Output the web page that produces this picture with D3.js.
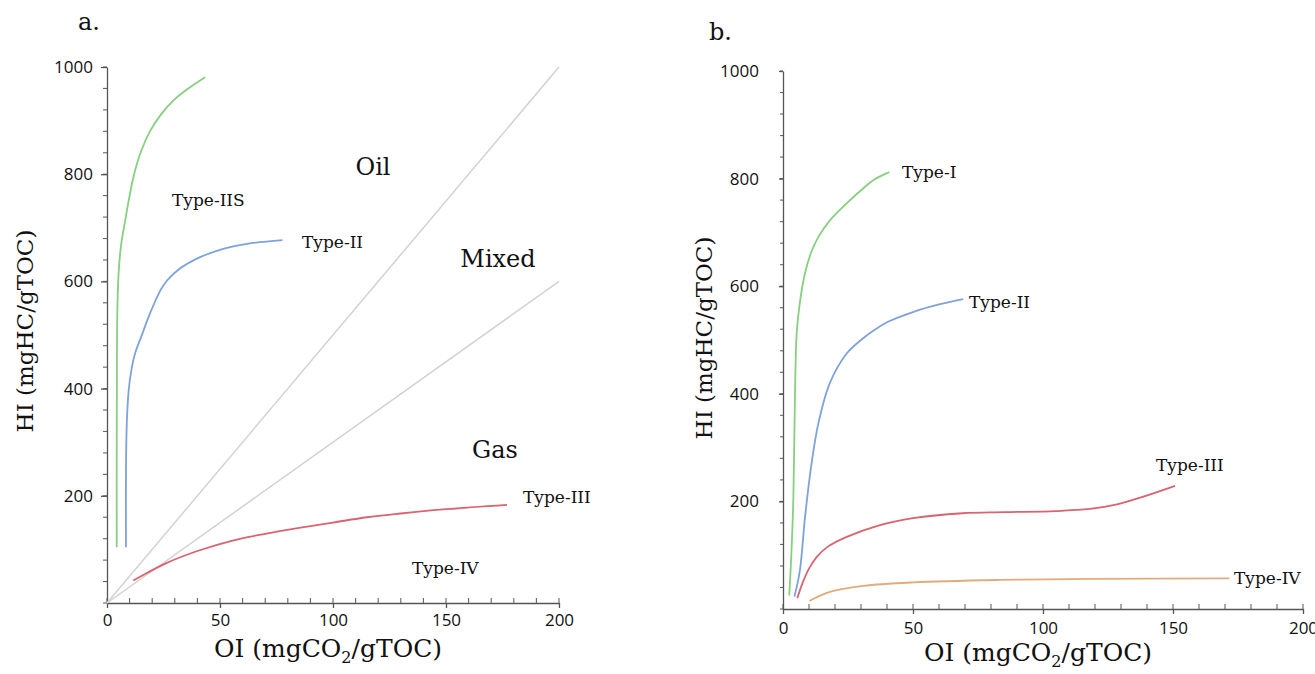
<!DOCTYPE html>
<html>
<head>
<meta charset="utf-8">
<script src="https://cdn.jsdelivr.net/npm/d3@7"></script>
<style>
  body { margin: 0; background: #fff; }
  svg text { fill: #111; }
</style>
</head>
<body>
<div id="vis"><svg width="1315" height="674"></svg></div>
<script>
// ---- data: [OI, HI] pairs ----
const typeIISa = [[4.3,104],[4.3,300],[4.4,450],[4.6,550],[5.2,620],[6.3,670],[8,712],[10,760],[12,800],[15,842],[19,880],[24,912],[30,940],[36,960],[43.4,981]];
const typeIIa = [[8.4,104],[8.4,250],[8.8,340],[9.6,397],[10.8,435],[12.5,467],[15,495],[19,540],[25,593],[32,623],[40,643],[50,659],[62,670],[77.6,677]];
const typeIIIa = [[11.6,42],[15,50],[26,74],[40,97],[56,117],[70,129],[85,140],[100,150],[115,160],[130,167],[150,175],[177,183]];
const boundaryLines = [[[0,0],[200,1000]], [[0,0],[200,600]]];

const typeIb = [[2.4,25],[3.2,100],[4,209],[4.6,395],[5.3,515],[6.5,570],[8.5,625],[11,665],[14,695],[18,722],[24.5,754],[30.9,782],[35,798],[40.9,812]];
const typeIIb = [[4.4,23],[6.5,72],[8.5,172],[11,271],[13.6,345],[18,420],[24.5,475],[30,500],[35,518],[40,533],[50,552],[60,566],[69.3,576]];
const typeIIIb = [[5.5,20],[7.5,48],[10,75],[13,97],[17,115],[24.5,134],[37.3,156],[50,169],[69,178],[85,180],[105,182],[118,186],[128,194],[138,208],[150.8,229]];
const typeIVb = [[10.1,15],[18,32],[30.9,43],[50.1,49.5],[83.5,54],[120,56],[171.7,57]];

const xTicks = [0, 50, 100, 150, 200];
const yTicks = [200, 400, 600, 800, 1000];
const xMinor = d3.range(0, 201, 10);
const yMinor = d3.range(0, 1001, 40);

const colors = { green: "#87cf7f", blue: "#7ea2da", red: "#d8646f", orange: "#e2ab7c", grey: "#d2d2d2" };

const svg = d3.select("#vis").select("svg");
const serif = "'DejaVu Serif', 'Liberation Serif', serif";
const sans = "'Open Sans', 'Noto Sans', sans-serif";

function drawPanel(p) {
  const x = d3.scaleLinear().domain([0, 200]).range([p.x0, p.x1]);
  const y = d3.scaleLinear().domain([0, 1000]).range([p.y0, p.y1]);
  const g = svg.append("g");

  // minor ticks, drawn by hand so they sit inside / outside like the original
  g.append("g").selectAll("line")
    .data(xMinor)
    .join("line")
    .attr("x1", d => x(d)).attr("x2", d => x(d))
    .attr("y1", p.y0).attr("y2", p.y0 - 5)
    .attr("stroke", "#666").attr("stroke-width", 1.1);
  g.append("g").selectAll("line")
    .data(yMinor)
    .join("line")
    .attr("x1", p.x0).attr("x2", p.x0 - p.minorY)
    .attr("y1", d => y(d)).attr("y2", d => y(d))
    .attr("stroke", "#666").attr("stroke-width", 1.1);

  // major axes
  const xa = g.append("g")
    .attr("transform", `translate(0,${p.y0})`)
    .call(d3.axisBottom(x).tickValues(xTicks).tickSize(5).tickPadding(p.xPad).tickSizeOuter(0));
  const ya = g.append("g")
    .attr("transform", `translate(${p.x0},0)`)
    .call(d3.axisLeft(y).tickValues(yTicks).tickFormat(d3.format("d"))
      .tickSize(p.majorY).tickPadding(p.yPad).tickSizeOuter(0));
  [xa, ya].forEach(a => {
    a.selectAll("path, line").attr("stroke", "#555").attr("stroke-width", 1.3);
    a.selectAll("text").attr("font-family", sans).attr("font-size", 17).attr("fill", "#222");
  });

  const line = d3.line()
    .x(d => x(d[0]))
    .y(d => y(d[1]))
    .curve(d3.curveCatmullRom.alpha(0.5));

  (p.guides || []).forEach(seg => {
    g.append("path").attr("d", d3.line().x(d => x(d[0])).y(d => y(d[1]))(seg))
      .attr("fill", "none").attr("stroke", colors.grey).attr("stroke-width", 1.5);
  });

  p.curves.forEach(c => {
    g.append("path").attr("d", line(c.data))
      .attr("fill", "none").attr("stroke", c.color).attr("stroke-width", 1.8);
  });

  p.labels.forEach(l => {
    g.append("text").attr("x", l.x).attr("y", l.y)
      .attr("font-family", serif).attr("font-size", l.size)
      .attr("text-anchor", l.anchor || "start")
      .text(l.text);
  });

  // axis titles
  const xt = g.append("text")
    .attr("x", (p.x0 + p.x1) / 2 - 5).attr("y", p.y0 + p.xTitleDy)
    .attr("font-family", serif).attr("font-size", 25).attr("text-anchor", "middle");
  xt.append("tspan").text("OI (mgCO");
  xt.append("tspan").attr("font-size", 16).attr("dy", 6).text("2");
  xt.append("tspan").attr("dy", -6).text("/gTOC)");

  g.append("text")
    .attr("transform", `translate(${p.yTitleX},${p.yTitleY}) rotate(-90)`)
    .attr("font-family", serif).attr("font-size", 23).attr("text-anchor", "middle")
    .text("HI (mgHC/gTOC)");

  g.append("text").attr("x", p.tagX).attr("y", p.tagY)
    .attr("font-family", serif).attr("font-size", 24).text(p.tag);
}

drawPanel({
  x0: 107, x1: 559, y0: 603, y1: 67,
  minorY: 4, majorY: 6, xPad: 6, yPad: 8, xTitleDy: 54,
  yTitleX: 33, yTitleY: 331, tag: "a.", tagX: 78, tagY: 30,
  guides: boundaryLines,
  curves: [
    { data: typeIISa, color: colors.green },
    { data: typeIIa, color: colors.blue },
    { data: typeIIIa, color: colors.red }
  ],
  labels: [
    { text: "Type-IIS", x: 172, y: 206, size: 17 },
    { text: "Type-II", x: 302, y: 248, size: 17 },
    { text: "Type-III", x: 523, y: 503, size: 17 },
    { text: "Type-IV", x: 412, y: 574, size: 17 },
    { text: "Oil", x: 373, y: 175, size: 24, anchor: "middle" },
    { text: "Mixed", x: 498, y: 267, size: 24, anchor: "middle" },
    { text: "Gas", x: 495, y: 458, size: 24, anchor: "middle" }
  ]
});

drawPanel({
  x0: 783, x1: 1303, y0: 609, y1: 71,
  minorY: 3, majorY: 4, xPad: 8, yPad: 20, xTitleDy: 52,
  yTitleX: 712, yTitleY: 338, tag: "b.", tagX: 709, tagY: 40,
  curves: [
    { data: typeIb, color: colors.green },
    { data: typeIIb, color: colors.blue },
    { data: typeIIIb, color: colors.red },
    { data: typeIVb, color: colors.orange }
  ],
  labels: [
    { text: "Type-I", x: 902, y: 178, size: 17 },
    { text: "Type-II", x: 969, y: 308, size: 17 },
    { text: "Type-III", x: 1156, y: 471, size: 17 },
    { text: "Type-IV", x: 1234, y: 584, size: 17 }
  ]
});
</script>
</body>
</html>
